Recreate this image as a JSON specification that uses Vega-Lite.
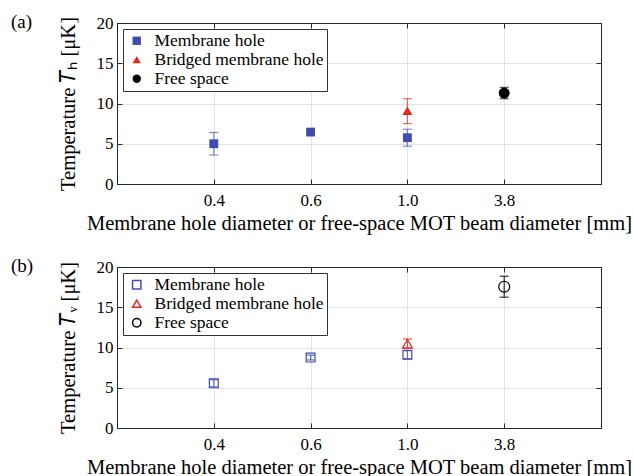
{
  "$schema": "https://vega.github.io/schema/vega-lite/v6.json",
  "padding": {"left": 10, "top": 12, "right": 0, "bottom": 0},
  "spacing": 22,
  "background": "white",
  "config": {
    "font": "Liberation Serif",
    "view": {"stroke": "#262626", "strokeWidth": 1},
    "axis": {
      "labelFont": "Liberation Serif", "titleFont": "Liberation Serif",
      "labelFontSize": 17, "titleFontSize": 20.5, "titleFontWeight": "normal",
      "labelColor": "#000", "titleColor": "#000",
      "domainColor": "#262626", "tickColor": "#262626",
      "tickSize": -5, "labelPadding": 9,
      "gridColor": "#E3E3E3", "gridWidth": 1
    },
    "legend": {
      "labelFont": "Liberation Serif", "labelFontSize": 17.5, "labelColor": "#000", "labelLimit": 400,
      "strokeColor": "#333", "fillColor": "white", "padding": 3,
      "rowPadding": 0, "symbolSize": 70, "symbolOffset": 2, "labelOffset": 9,
      "orient": "top-left", "offset": 6, "title": null
    },
    "title": {"font": "Liberation Serif", "fontSize": 19, "fontWeight": "normal", "color": "#000"}
  },
  "datasets": {
    "H": [
      {"series": "Membrane hole", "d": "0.4", "t": 5.0, "lo": 3.6, "hi": 6.4},
      {"series": "Membrane hole", "d": "0.6", "t": 6.45, "lo": 6.25, "hi": 6.65},
      {"series": "Membrane hole", "d": "1.0", "t": 5.75, "lo": 4.7, "hi": 6.8},
      {"series": "Bridged membrane hole", "d": "1.0", "t": 9.1, "lo": 7.5, "hi": 10.6},
      {"series": "Free space", "d": "3.8", "t": 11.3, "lo": 10.6, "hi": 12.0}
    ],
    "V": [
      {"series": "Membrane hole", "d": "0.4", "t": 5.55, "lo": 5.1, "hi": 6.0},
      {"series": "Membrane hole", "d": "0.6", "t": 8.75, "lo": 8.45, "hi": 9.05},
      {"series": "Membrane hole", "d": "1.0", "t": 9.1, "lo": 8.6, "hi": 9.6},
      {"series": "Bridged membrane hole", "d": "1.0", "t": 10.45, "lo": 9.9, "hi": 11.05},
      {"series": "Free space", "d": "3.8", "t": 17.55, "lo": 16.25, "hi": 18.85}
    ]
  },
  "vconcat": [
    {
      "width": 484, "height": 161,
      "data": {"name": "H"},
      "title": {"text": "(a)", "anchor": "start", "frame": "group", "dx": -106, "offset": -33, "baseline": "alphabetic"},
      "resolve": {"axis": {"x": "independent", "y": "independent"}, "legend": {"color": "independent", "shape": "independent"}},
      "layer": [
        {
          "mark": {"type": "errorbar", "ticks": {"size": 9}, "thickness": 1.2, "opacity": 0.65},
          "encoding": {
            "x": {"field": "d", "type": "ordinal", "scale": {"type": "point", "padding": 1, "domain": ["0.4", "0.6", "1.0", "3.8"]},
                  "axis": {"labelAngle": 0, "grid": true, "labelPadding": 13, "title": "Membrane hole diameter or free-space MOT beam diameter [mm]", "titlePadding": 5}},
            "y": {"field": "lo", "type": "quantitative", "scale": {"domain": [0, 20]},
                  "axis": {"values": [0, 5, 10, 15, 20], "grid": true, "title": "Temperature 𝑇ₕ [μK]", "titlePadding": 18}},
            "y2": {"field": "hi"},
            "color": {"field": "series", "type": "nominal", "legend": null,
                      "scale": {"domain": ["Membrane hole", "Bridged membrane hole", "Free space"], "range": ["#3F4DAE", "#E3271B", "#000000"]}}
          }
        },
        {
          "mark": {"type": "point", "filled": true, "opacity": 1},
          "encoding": {
            "x": {"field": "d", "type": "ordinal", "axis": null},
            "y": {"field": "t", "type": "quantitative", "axis": null},
            "color": {"field": "series", "type": "nominal", "legend": {}},
            "shape": {"field": "series", "type": "nominal", "legend": {},
                      "scale": {"domain": ["Membrane hole", "Bridged membrane hole", "Free space"], "range": ["square", "triangle-up", "circle"]}},
            "size": {"field": "series", "type": "nominal", "legend": null,
                     "scale": {"domain": ["Membrane hole", "Bridged membrane hole", "Free space"], "range": [78, 120, 105]}}
          }
        },
        {
          "mark": {"type": "point", "opacity": 0},
          "encoding": {
            "x": {"field": "d", "type": "ordinal", "axis": {"orient": "top", "labels": false, "grid": false, "title": null}},
            "y": {"field": "t", "type": "quantitative", "axis": {"orient": "right", "labels": false, "grid": false, "title": null, "values": [0, 5, 10, 15, 20]}}
          }
        }
      ]
    },
    {
      "width": 484, "height": 161,
      "data": {"name": "V"},
      "title": {"text": "(b)", "anchor": "start", "frame": "group", "dx": -106, "offset": -33, "baseline": "alphabetic"},
      "resolve": {"axis": {"x": "independent", "y": "independent"}, "legend": {"color": "independent", "shape": "independent"}},
      "layer": [
        {
          "mark": {"type": "errorbar", "ticks": {"size": 9}, "thickness": 1.2, "opacity": 0.8},
          "encoding": {
            "x": {"field": "d", "type": "ordinal", "scale": {"type": "point", "padding": 1, "domain": ["0.4", "0.6", "1.0", "3.8"]},
                  "axis": {"labelAngle": 0, "grid": true, "labelPadding": 13, "title": "Membrane hole diameter or free-space MOT beam diameter [mm]", "titlePadding": 5}},
            "y": {"field": "lo", "type": "quantitative", "scale": {"domain": [0, 20]},
                  "axis": {"values": [0, 5, 10, 15, 20], "grid": true, "title": "Temperature 𝑇ᵥ [μK]", "titlePadding": 18}},
            "y2": {"field": "hi"},
            "color": {"field": "series", "type": "nominal", "legend": null,
                      "scale": {"domain": ["Membrane hole", "Bridged membrane hole", "Free space"], "range": ["#3F4DAE", "#E3271B", "#000000"]}}
          }
        },
        {
          "mark": {"type": "point", "filled": false, "strokeWidth": 1.2, "opacity": 1},
          "encoding": {
            "x": {"field": "d", "type": "ordinal", "axis": null},
            "y": {"field": "t", "type": "quantitative", "axis": null},
            "color": {"field": "series", "type": "nominal", "legend": {}},
            "shape": {"field": "series", "type": "nominal", "legend": {},
                      "scale": {"domain": ["Membrane hole", "Bridged membrane hole", "Free space"], "range": ["square", "triangle-up", "circle"]}},
            "size": {"field": "series", "type": "nominal", "legend": null,
                     "scale": {"domain": ["Membrane hole", "Bridged membrane hole", "Free space"], "range": [78, 120, 105]}}
          }
        },
        {
          "mark": {"type": "point", "opacity": 0},
          "encoding": {
            "x": {"field": "d", "type": "ordinal", "axis": {"orient": "top", "labels": false, "grid": false, "title": null}},
            "y": {"field": "t", "type": "quantitative", "axis": {"orient": "right", "labels": false, "grid": false, "title": null, "values": [0, 5, 10, 15, 20]}}
          }
        }
      ]
    }
  ]
}
